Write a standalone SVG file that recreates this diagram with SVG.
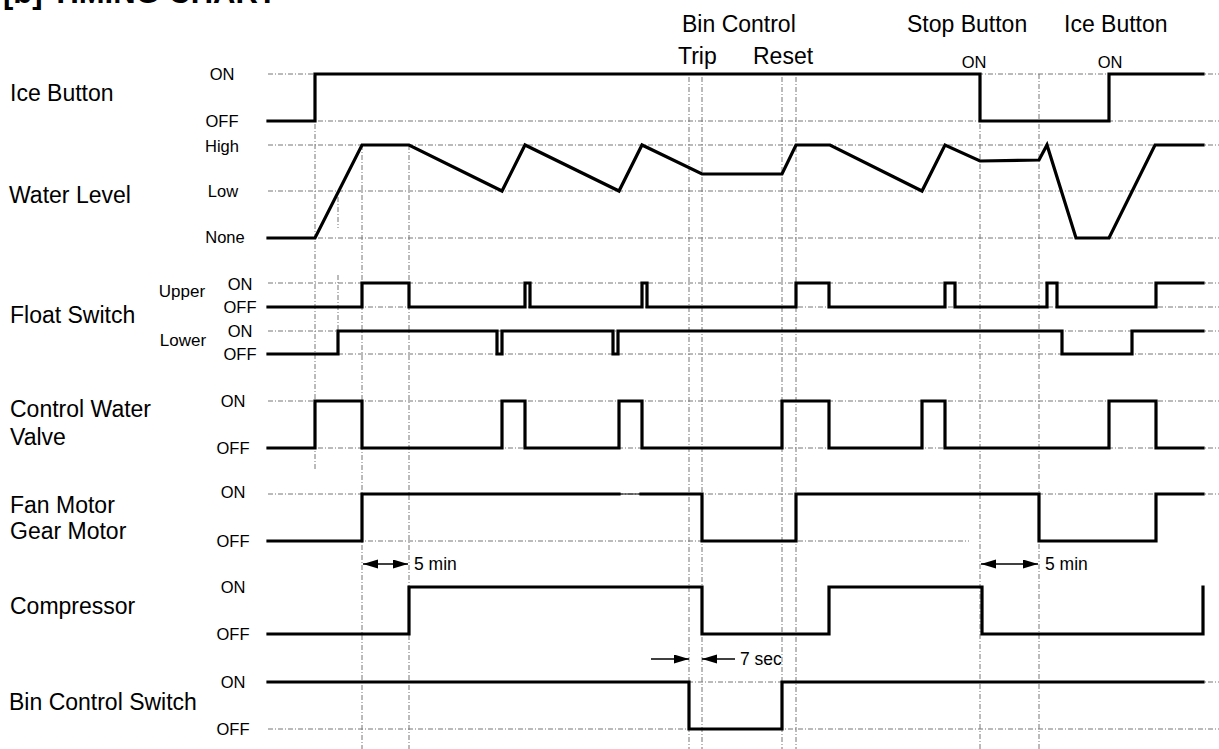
<svg xmlns="http://www.w3.org/2000/svg" width="1219" height="749" viewBox="0 0 1219 749">
<style>
.bg{fill:#fff}
.grid{stroke:#777;stroke-width:1;stroke-dasharray:5,2,1,2;fill:none}
.sig{stroke:#000;stroke-width:3.2;fill:none;stroke-linejoin:miter;stroke-linecap:square}
.thin{stroke:#000;stroke-width:1;fill:none}
.dim{stroke:#000;stroke-width:1.5;fill:none}
text{font-family:"Liberation Sans",Arial,sans-serif;fill:#000}
.name{font-size:23px}
.lvl{font-size:16.5px;text-anchor:middle}
.head{font-size:23px}
.note{font-size:17.5px}
.title{font-size:31px;font-weight:bold}
</style>
<defs>
<marker id="ah" markerUnits="userSpaceOnUse" markerWidth="16" markerHeight="10" refX="15" refY="4.5" orient="auto-start-reverse">
<path d="M0,0 L15,4.5 L0,9 z" fill="#000"/>
</marker>
</defs>
<rect class="bg" x="0" y="0" width="1219" height="749"/>
<text class="title" x="3" y="3">[b] TIMING CHART</text>

<g id="grid">
<path class="grid" d="M268,74H1219 M268,121H1219 M268,145H1219 M268,191H1219 M268,238H1219 M268,283H1219 M268,307H1219 M268,331H1219 M268,354H1219 M268,401H1219 M268,448H1219 M268,494H1219 M268,541H969 M268,682H1219 M268,729H1219"/>
<path class="grid" d="M315,74V469 M338,197V228 M338,275V354 M362,145V749 M409,145V749 M689,77V749 M702,77V749 M782,77V749 M796,77V749 M980,74V749 M1039,74V749"/>
</g>

<g id="headers">
<text class="head" x="682" y="32">Bin Control</text>
<text class="head" x="678" y="64">Trip</text>
<text class="head" x="753" y="64">Reset</text>
<text class="head" x="907" y="32">Stop Button</text>
<text class="head" x="1064" y="32">Ice Button</text>
<text class="lvl" x="974" y="68">ON</text>
<text class="lvl" x="1110" y="68">ON</text>
</g>

<g id="ice-button">
<text class="name" x="10" y="101">Ice Button</text>
<text class="lvl" x="222" y="80">ON</text>
<text class="lvl" x="222" y="127">OFF</text>
<polyline class="sig" points="268,121 315,121 315,74 980,74 980,121 1109,121 1109,74 1203,74"/>
</g>

<g id="water-level">
<text class="name" x="9" y="203">Water Level</text>
<text class="lvl" x="222" y="152">High</text>
<text class="lvl" x="223" y="197">Low</text>
<text class="lvl" x="225" y="243">None</text>
<polyline class="sig" points="268,238 315,238 362,145 409,145 502,191 525,145 619,191 642,145 702,174 782,174 796,145 830,145 922,191 945,145 980,161 1039,160 1047,145 1076,238 1109,238 1155,145 1203,145"/>
</g>

<g id="float-switch">
<text class="name" x="10" y="323">Float Switch</text>
<text class="lvl" x="182" y="297" style="font-size:17px">Upper</text>
<text class="lvl" x="183" y="346" style="font-size:17px">Lower</text>
<text class="lvl" x="240" y="290">ON</text>
<text class="lvl" x="240" y="313">OFF</text>
<text class="lvl" x="240" y="337">ON</text>
<text class="lvl" x="240" y="360">OFF</text>
<polyline class="sig" points="268,307 362,307 362,283 409,283 409,307 525,307 525,283 530,283 530,307 642,307 642,283 647,283 647,307 796,307 796,283 829,283 829,307 945,307 945,283 955,283 955,307 1047,307 1047,283 1057,283 1057,307 1156,307 1156,283 1203,283"/>
<polyline class="sig" points="268,354 338,354 338,331 497,331 497,354 502,354 502,331 613,331 613,354 618,354 618,331 1062,331 1062,354 1132,354 1132,331 1203,331"/>
</g>

<g id="control-water-valve">
<text class="name" x="10" y="417">Control Water</text>
<text class="name" x="10" y="445">Valve</text>
<text class="lvl" x="233" y="407">ON</text>
<text class="lvl" x="233" y="454">OFF</text>
<polyline class="sig" points="268,448 315,448 315,401 362,401 362,448 502,448 502,401 525,401 525,448 619,448 619,401 642,401 642,448 782,448 782,401 829,401 829,448 922,448 922,401 945,401 945,448 1109,448 1109,401 1156,401 1156,448 1203,448"/>
</g>

<g id="fan-gear-motor">
<text class="name" x="10" y="513">Fan Motor</text>
<text class="name" x="10" y="539">Gear Motor</text>
<text class="lvl" x="233" y="498">ON</text>
<text class="lvl" x="233" y="547">OFF</text>
<polyline class="sig" points="268,541 362,541 362,494 619,494"/>
<line class="thin" x1="619" y1="494" x2="641" y2="494"/>
<polyline class="sig" points="641,494 702,494 702,541 796,541 796,494 1039,494 1039,541 1156,541 1156,494 1203,494"/>
</g>

<g id="compressor">
<text class="name" x="10" y="614">Compressor</text>
<text class="lvl" x="233" y="593">ON</text>
<text class="lvl" x="233" y="640">OFF</text>
<polyline class="sig" points="268,634 409,634 409,587 702,587 702,634 829,634 829,587 982,587 982,634 1203,634 1203,587"/>
</g>

<g id="bin-control-switch">
<text class="name" x="9" y="710">Bin Control Switch</text>
<text class="lvl" x="233" y="688">ON</text>
<text class="lvl" x="233" y="735">OFF</text>
<polyline class="sig" points="268,682 689,682 689,729 782,729 782,682 1203,682"/>
</g>

<g id="connectors">
<line class="dim" x1="363" y1="564" x2="408" y2="564" marker-start="url(#ah)" marker-end="url(#ah)"/>
<text class="note" x="414" y="570">5 min</text>
<line class="dim" x1="981" y1="564" x2="1038" y2="564" marker-start="url(#ah)" marker-end="url(#ah)"/>
<text class="note" x="1045" y="570">5 min</text>
<line class="dim" x1="651" y1="659" x2="689" y2="659" marker-end="url(#ah)"/>
<line class="dim" x1="735" y1="659" x2="702" y2="659" marker-end="url(#ah)"/>
<text class="note" x="740" y="665">7 sec</text>
</g>
</svg>
